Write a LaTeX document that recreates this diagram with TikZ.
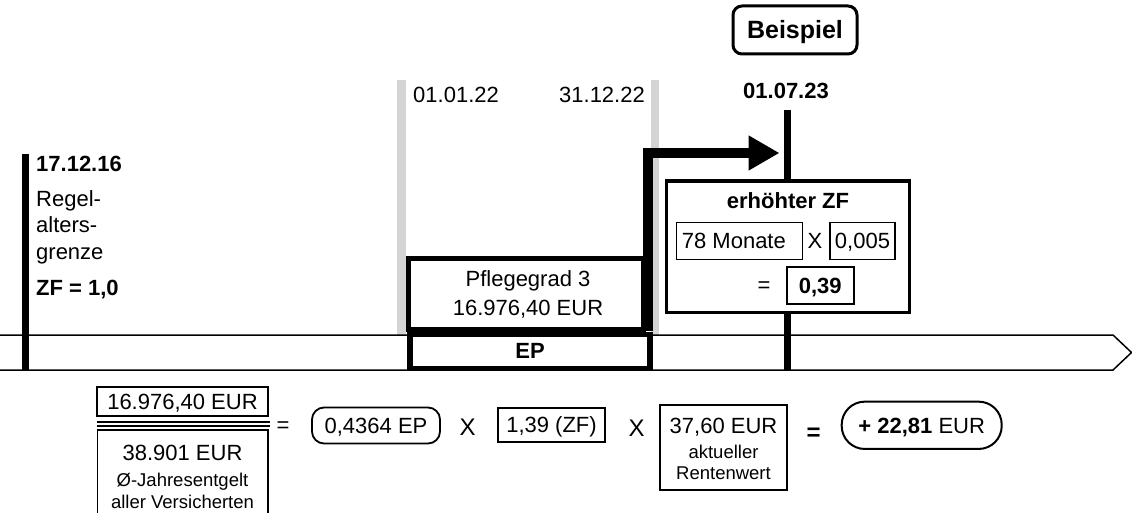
\documentclass[tikz,border=0pt]{standalone}
\usepackage{fontspec}
\setmainfont{Liberation Sans}
\usetikzlibrary{arrows.meta}
\begin{document}
\begin{tikzpicture}[x=1pt,y=-1pt,line join=miter]
\tikzset{
  txt/.style={inner sep=0pt, anchor=base, font=\fontsize{22}{26}\selectfont},
  txtb/.style={inner sep=0pt, anchor=base, font=\fontsize{22}{26}\selectfont\bfseries},
  smalltxt/.style={inner sep=0pt, anchor=base, font=\fontsize{18.5}{22}\selectfont},
  optxt/.style={inner sep=0pt, anchor=base, font=\fontsize{24}{28}\selectfont},
  graybar/.style={line width=8.5pt, draw=black!17},
  blackbar/.style={line width=7pt, draw=black},
  thickbox/.style={draw, line width=5pt, fill=white, inner sep=0pt},
  thinbox/.style={draw, line width=1.5pt, fill=white, inner sep=0pt,
    font=\fontsize{22}{26}\selectfont, text height=15.8pt, text depth=0pt},
  roundbox/.style={thinbox, line width=1.8pt},
}
\useasboundingbox (0,0) rectangle (1132,513);

% grey period markers
\draw[graybar] (401.5,80) -- (401.5,335);
\draw[graybar] (655,80) -- (655,335);

% time line band
\draw[line width=1.5pt] (0,335) -- (1113,335) -- (1131.5,352.5) -- (1113,370) -- (0,370);

% vertical markers
\draw[blackbar] (25.5,154) -- (25.5,370);
\draw[blackbar] (787.5,110) -- (787.5,370);

% left labels
\node[txtb, anchor=base west] (d1) at (36,171.7) {17.12.16};
\node[txt, anchor=base west] (r1) at (36,207) {Regel-};
\node[txt, anchor=base west] (r2) at (36,233) {alters-};
\node[txt, anchor=base west] (r3) at (36,259) {grenze};
\node[txtb, anchor=base west] (zf1) at (36,295) {ZF = 1,0};

% dates
\node[txt, anchor=base west] (d2) at (413,103) {01.01.22};
\node[txt, anchor=base east] (d3) at (645,103) {31.12.22};
\node[txtb] (d4) at (786,98.7) {01.07.23};

% Beispiel
\node[draw, line width=3pt, rounded corners=9pt, inner sep=0pt,
      minimum width=124pt, minimum height=48pt,
      font=\fontsize{25}{29}\selectfont\bfseries, text height=18pt, text depth=0pt]
      (bsp) at (795,30) {Beispiel};

% Pflegegrad box
\node[thickbox, minimum width=235pt, minimum height=71pt] (pg) at (526,294) {};
\node[txt] (pg1) at (528,286.7) {Pflegegrad 3};
\node[txt] (pg2) at (528,315) {16.976,40 EUR};

% EP box
\node[thickbox, line width=5.5pt, minimum width=240pt, minimum height=34pt] (ep) at (530.2,351.6) {};
\node[txtb] (eptxt) at (530,358) {EP};

% arrow from the period to 01.07.23
\coordinate (arrS) at (648,331);
\coordinate (arrE) at (779.5,153);
\draw[line width=10pt, -{Triangle[length=31pt,width=33pt]}] (arrS) |- (arrE);

% erhoehter ZF box
\node[draw, line width=3.5pt, fill=white, inner sep=0pt,
      minimum width=243pt, minimum height=131.5pt] (zfbox) at (788,246.75) {};
\node[txtb] (zfh) at (788,208) {erhöhter ZF};
\node[thinbox, minimum width=126pt, minimum height=36.6pt] (mon) at (739.7,241) {};
\node[txt, anchor=base west] (montxt) at (681.7,248) {78 Monate};
\node[txt] (x0) at (815,248) {X};
\node[thinbox, minimum width=65pt, minimum height=36.6pt] (fac) at (862.5,241) {0,005};
\node[txt] (eq0) at (764,292.7) {=};
\node[thinbox, line width=2pt, minimum width=67.3pt, minimum height=37.3pt,
      font=\fontsize{22}{26}\selectfont\bfseries] (res) at (820.3,285.3) {0,39};

% bottom formula
\node[thinbox, minimum width=171pt, minimum height=29pt] (num) at (182.5,401.5) {16.976,40 EUR};
\draw[line width=2pt] (97,421.5) -- (270,421.5);
\draw[line width=2pt] (97,425.5) -- (270,425.5);
\coordinate (denA) at (97.5,520);
\coordinate (denB) at (268,520);
\draw[line width=1.5pt] (denA) -- (97.5,430) -- (268,430) -- (denB);
\node[txt] (den1) at (182.5,460) {38.901 EUR};
\node[smalltxt] (den2) at (182.5,486) {Ø-Jahresentgelt};
\node[smalltxt] (den3) at (182.5,508) {aller Versicherten};

\node[txt] (eq1) at (283,432) {=};
\node[roundbox, rounded corners=12pt, minimum width=128pt, minimum height=36pt] (ep2) at (376,425.5) {0,4364 EP};
\node[optxt] (x1) at (467.5,435.5) {X};
\node[thinbox, minimum width=107pt, minimum height=34pt] (zf2) at (551.5,425) {1,39 (ZF)};
\node[optxt] (x2) at (636.5,436.5) {X};
\node[thinbox, minimum width=127pt, minimum height=85pt] (rw) at (723.5,447.5) {};
\node[txt] (rw1) at (723.5,433) {37,60 EUR};
\node[smalltxt] (rw2) at (723.5,458) {aktueller};
\node[smalltxt] (rw3) at (723.5,479.5) {Rentenwert};
\node[optxt, font=\fontsize{24}{28}\selectfont\bfseries] (eq2) at (813.5,440) {=};
\node[roundbox, line width=2pt, rounded corners=23pt, minimum width=160pt, minimum height=47.3pt] (sum) at (921.7,425.3) {\textbf{+ 22,81} EUR};
\end{tikzpicture}
\end{document}
